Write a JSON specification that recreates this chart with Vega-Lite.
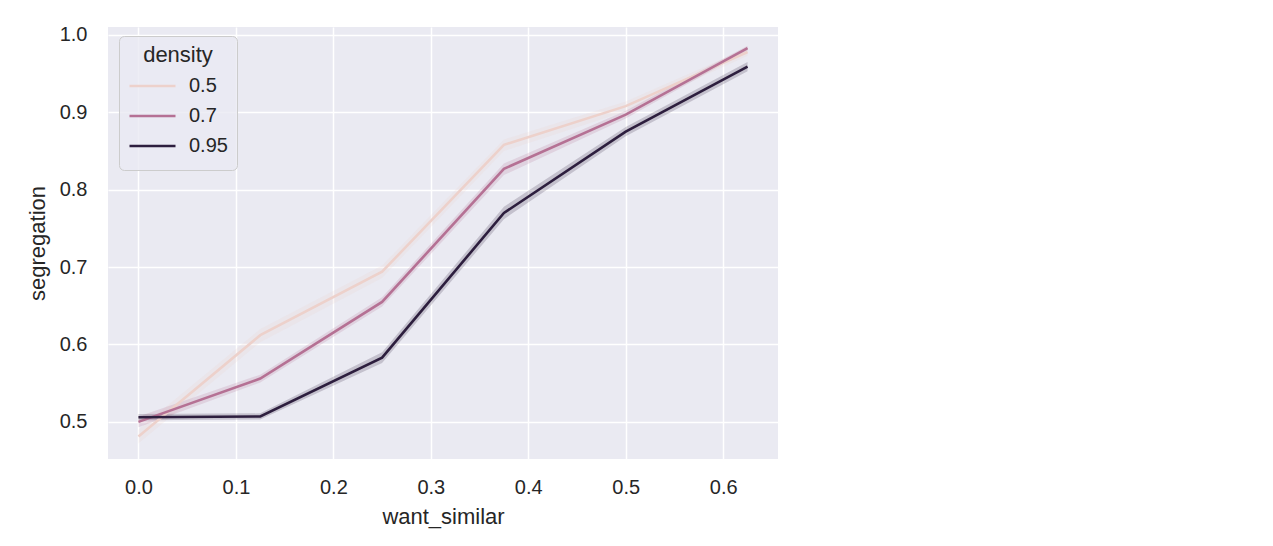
{
  "$schema": "https://vega.github.io/schema/vega-lite/v6.json",
  "width": 670,
  "height": 432,
  "autosize": {"type": "none"},
  "padding": {"left": 108, "top": 27, "right": 495, "bottom": 87},
  "background": "white",
  "config": {
    "font": "Liberation Sans",
    "view": {"fill": "#eaeaf2", "stroke": null},
    "axis": {
      "domain": false,
      "ticks": false,
      "grid": true,
      "gridColor": "white",
      "gridWidth": 1.5,
      "labelFont": "Liberation Sans",
      "labelFontSize": 20,
      "labelColor": "#262626",
      "titleFont": "Liberation Sans",
      "titleFontSize": 22,
      "titleFontWeight": "normal",
      "titleColor": "#262626"
    },
    "legend": {
      "orient": "none", "legendX": 11, "legendY": 9,
      "titleFontSize": 22, "titleFontWeight": "normal", "titleColor": "#262626",
      "titleAnchor": "middle", "titlePadding": 4,
      "labelFontSize": 20, "labelColor": "#262626", "labelOffset": 12,
      "symbolType": "stroke", "symbolSize": 2116, "symbolStrokeWidth": 2.6, "symbolOpacity": 1,
      "clipHeight": 30,
      "rowPadding": 0,
      "fillColor": "rgba(234,234,242,0.8)", "strokeColor": "#cccccc", "cornerRadius": 5,
      "padding": 9
    }
  },
  "data": {
    "values": [
      {"want_similar": 0.0, "density": "0.5", "segregation": 0.481, "lo": 0.472, "hi": 0.490},
      {"want_similar": 0.125, "density": "0.5", "segregation": 0.612, "lo": 0.603, "hi": 0.620},
      {"want_similar": 0.25, "density": "0.5", "segregation": 0.694, "lo": 0.686, "hi": 0.702},
      {"want_similar": 0.375, "density": "0.5", "segregation": 0.858, "lo": 0.850, "hi": 0.865},
      {"want_similar": 0.5, "density": "0.5", "segregation": 0.908, "lo": 0.901, "hi": 0.914},
      {"want_similar": 0.625, "density": "0.5", "segregation": 0.978, "lo": 0.973, "hi": 0.983},
      {"want_similar": 0.0, "density": "0.7", "segregation": 0.500, "lo": 0.493, "hi": 0.507},
      {"want_similar": 0.125, "density": "0.7", "segregation": 0.556, "lo": 0.551, "hi": 0.561},
      {"want_similar": 0.25, "density": "0.7", "segregation": 0.655, "lo": 0.649, "hi": 0.661},
      {"want_similar": 0.375, "density": "0.7", "segregation": 0.827, "lo": 0.819, "hi": 0.834},
      {"want_similar": 0.5, "density": "0.7", "segregation": 0.897, "lo": 0.892, "hi": 0.902},
      {"want_similar": 0.625, "density": "0.7", "segregation": 0.983, "lo": 0.980, "hi": 0.986},
      {"want_similar": 0.0, "density": "0.95", "segregation": 0.506, "lo": 0.502, "hi": 0.510},
      {"want_similar": 0.125, "density": "0.95", "segregation": 0.507, "lo": 0.503, "hi": 0.511},
      {"want_similar": 0.25, "density": "0.95", "segregation": 0.583, "lo": 0.576, "hi": 0.590},
      {"want_similar": 0.375, "density": "0.95", "segregation": 0.770, "lo": 0.762, "hi": 0.778},
      {"want_similar": 0.5, "density": "0.95", "segregation": 0.875, "lo": 0.869, "hi": 0.881},
      {"want_similar": 0.625, "density": "0.95", "segregation": 0.959, "lo": 0.953, "hi": 0.965}
    ]
  },
  "layer": [
    {
      "mark": {"type": "area", "opacity": 0.2},
      "encoding": {
        "x": {"field": "want_similar", "type": "quantitative"},
        "y": {"field": "lo", "type": "quantitative"},
        "y2": {"field": "hi"},
        "color": {"field": "density", "type": "nominal", "title": "density",
          "scale": {"domain": ["0.5", "0.7", "0.95"], "range": ["#edd1cb", "#b57194", "#2d1e3e"]}}
      }
    },
    {
      "mark": {"type": "line", "strokeWidth": 2.6},
      "encoding": {
        "x": {"field": "want_similar", "type": "quantitative", "title": "want_similar",
          "scale": {"domain": [-0.03125, 0.65625], "nice": false, "zero": false},
          "axis": {"values": [0, 0.1, 0.2, 0.3, 0.4, 0.5, 0.6], "format": ".1f", "labelPadding": 18, "titlePadding": 9}},
        "y": {"field": "segregation", "type": "quantitative", "title": "segregation",
          "scale": {"domain": [0.452, 1.0103], "nice": false, "zero": false},
          "axis": {"values": [0.5, 0.6, 0.7, 0.8, 0.9, 1.0], "format": ".1f", "labelPadding": 21, "titlePadding": 10}},
        "color": {"field": "density", "type": "nominal", "title": "density",
          "scale": {"domain": ["0.5", "0.7", "0.95"], "range": ["#edd1cb", "#b57194", "#2d1e3e"]}}
      }
    }
  ]
}
